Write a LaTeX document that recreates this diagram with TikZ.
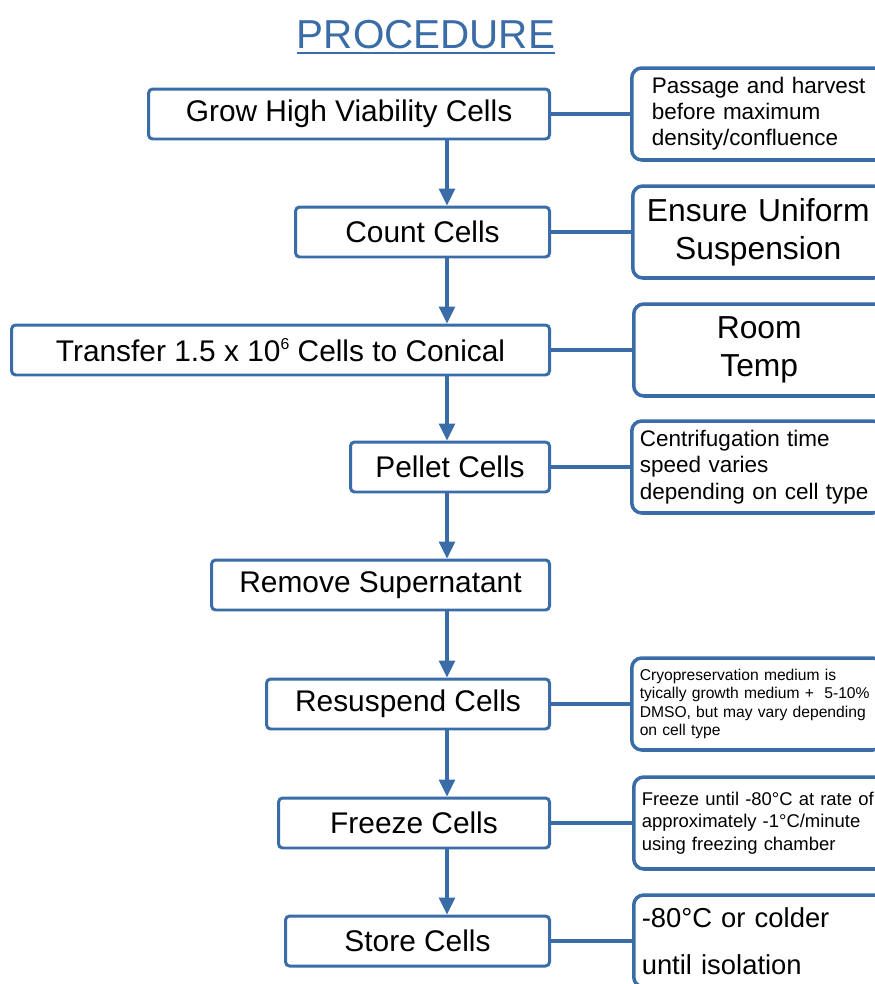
\documentclass[tikz,border=0pt]{standalone}
\usepackage{fontspec}
\setmainfont{Liberation Sans}
\usepackage{xcolor}
\usepackage{tikz}
\usetikzlibrary{arrows.meta,positioning,shapes,calc}
\definecolor{procblue}{RGB}{58,108,168}

\begin{document}
\begin{tikzpicture}[x=0.02cm, y=-0.02cm,
    stepbox/.style={draw=procblue, line width=1.7pt, rounded corners=0.08cm, fill=white,
        minimum height=1cm, inner sep=0pt, anchor=east, font=\fontsize{17}{20}\selectfont},
    notebox/.style={draw=procblue, line width=2pt, rounded corners=0.2cm, fill=white,
        minimum height=1.84cm, anchor=west, align=left, text width=4.7cm,
        inner xsep=0.16cm, inner ysep=0pt},
    flow/.style={procblue, line width=1.8pt, -{Triangle[length=0.34cm, width=0.32cm]}},
    link/.style={procblue, line width=2pt}
]

\clip (0,0) rectangle (875,984);

% Title
\node[procblue, font=\fontsize{23}{26}\selectfont, inner xsep=0pt, anchor=base] (title) at (426,48) {PROCEDURE};
\draw[procblue, line width=1.1pt] ($(title.base west)+(0,5)$) -- ($(title.base east)+(0,5)$);

% Main steps (right edges lined up)
\node[stepbox, minimum width=8.02cm] (grow) at (551,114) {Grow High Viability Cells};
\node[stepbox, minimum width=5.08cm] (count) at (551,232) {Count Cells};
\node[stepbox, minimum width=10.76cm] (transfer) at (551,350) {Transfer 1.5 x 10\raisebox{0.75ex}{\fontsize{9}{9}\selectfont 6} Cells to Conical};
\node[stepbox, minimum width=3.98cm] (pellet) at (551,467) {Pellet Cells};
\node[stepbox, minimum width=6.76cm] (remove) at (551,585) {Remove Supernatant};
\node[stepbox, minimum width=5.66cm] (resuspend) at (551,704) {Resuspend Cells};
\node[stepbox, minimum width=5.42cm] (freeze) at (551,823) {Freeze Cells};
\node[stepbox, minimum width=5.28cm] (store) at (551,941) {Store Cells};

% Side notes
\node[notebox, inner xsep=0.4cm, text width=4.4cm, font=\fontsize{12.8}{14.7}\selectfont] (harvest) at (630,114) {Passage and harvest\\before maximum\\density/confluence};
\node[notebox, align=center, font=\fontsize{18.1}{21.8}\selectfont] (uniform) at (631,232) {Ensure Uniform\\Suspension};
\node[notebox, align=center, font=\fontsize{18.1}{22}\selectfont] (roomtemp) at (632,350) {Room\\Temp};
\node[notebox, font=\fontsize{12.8}{15}\selectfont] (spin) at (630,467) {Centrifugation time\\speed varies\\depending on cell type};
\node[notebox, font=\fontsize{8.9}{10.6}\selectfont] (medium) at (630,704) {Cryopreservation medium is\\tyically growth medium + \ 5-10\%\\DMSO, but may vary depending\\on cell type};
\node[notebox, font=\fontsize{10.5}{12.8}\selectfont] (rate) at (632,823) {Freeze until -80°C at rate of\\approximately -1°C/minute\\using freezing chamber};
\node[notebox, font=\fontsize{15.6}{26.6}\selectfont] (cold) at (632,941) {-80°C or colder\\until isolation};

% Flow arrows
\coordinate (spine) at (447,0);
\draw[flow] (grow.south -| spine) -- (count.north -| spine);
\draw[flow] (count.south -| spine) -- (transfer.north -| spine);
\draw[flow] (transfer.south -| spine) -- (pellet.north -| spine);
\draw[flow] (pellet.south -| spine) -- (remove.north -| spine);
\draw[flow] (remove.south -| spine) -- (resuspend.north -| spine);
\draw[flow] (resuspend.south -| spine) -- (freeze.north -| spine);
\draw[flow] (freeze.south -| spine) -- (store.north -| spine);

% Links to notes
\draw[link] (grow.east) -- (harvest.west);
\draw[link] (count.east) -- (uniform.west);
\draw[link] (transfer.east) -- (roomtemp.west);
\draw[link] (pellet.east) -- (spin.west);
\draw[link] (resuspend.east) -- (medium.west);
\draw[link] (freeze.east) -- (rate.west);
\draw[link] (store.east) -- (cold.west);

\end{tikzpicture}
\end{document}
